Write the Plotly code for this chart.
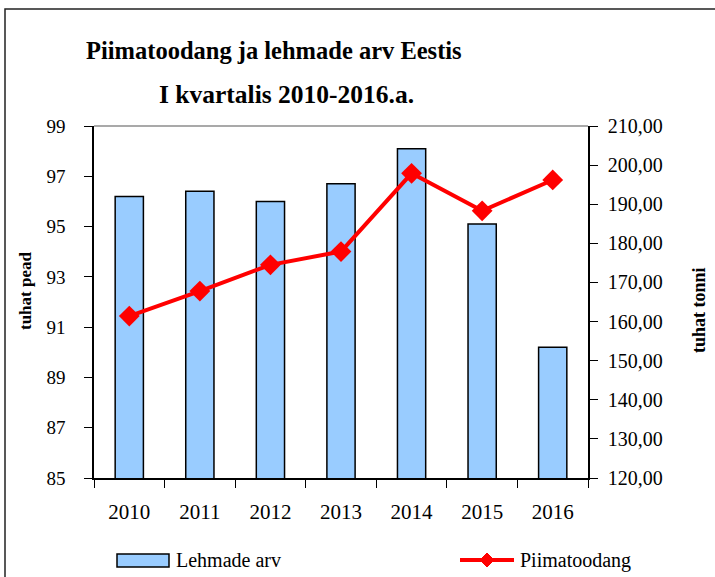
import plotly.graph_objects as go

years = ["2010", "2011", "2012", "2013", "2014", "2015", "2016"]
lehmade_arv = [96.2, 96.4, 96.0, 96.7, 98.1, 95.1, 90.2]
piimatoodang = [161.4, 167.8, 174.5, 177.9, 197.9, 188.3, 196.2]

FONT = "Liberation Serif"

fig = go.Figure()
fig.add_trace(go.Bar(
    x=years, y=lehmade_arv, name="Lehmade arv",
    marker=dict(color="#99CCFF", line=dict(color="black", width=1.5)),
    width=0.4, yaxis="y", showlegend=False,
))
fig.add_trace(go.Scatter(
    x=years, y=piimatoodang, name="Piimatoodang", mode="lines+markers",
    line=dict(color="#FF0000", width=4),
    marker=dict(symbol="diamond", size=16, color="#FF0000"),
    yaxis="y2", showlegend=False,
))

L, R, T, B = 94, 127, 126, 99
W, H = 715, 577
pw, ph = W - L - R, H - T - B

def px(x):
    return (x - L) / pw

def py(y):
    return (H - B - y) / ph

shapes = [
    # outer frame
    dict(type="rect", xref="paper", yref="paper", x0=px(5), x1=px(740), y0=py(600), y1=py(9),
         line=dict(color="#222222", width=1.5), layer="below"),
    # plot-area top border
    dict(type="line", xref="paper", yref="paper", x0=0, x1=1, y0=1, y1=1,
         line=dict(color="#8c8c8c", width=1.5)),
    # legend: bar swatch
    dict(type="rect", xref="paper", yref="paper", x0=px(117), x1=px(169), y0=py(567), y1=py(554),
         fillcolor="#99CCFF", line=dict(color="black", width=1.5)),
    # legend: line swatch
    dict(type="line", xref="paper", yref="paper", x0=px(460), x1=px(514), y0=py(560), y1=py(560),
         line=dict(color="#FF0000", width=4)),
    dict(type="path", xref="paper", yref="paper",
         path=f"M {px(480)} {py(560)} L {px(487)} {py(553)} L {px(494)} {py(560)} L {px(487)} {py(567)} Z",
         fillcolor="#FF0000", line=dict(color="#FF0000", width=1)),
]

annotations = [
    dict(text="<b>Piimatoodang ja lehmade arv Eestis</b>", xref="paper", yref="paper",
         x=px(274), y=py(50), showarrow=False, font=dict(family=FONT, size=24.5, color="black"),
         xanchor="center", yanchor="middle"),
    dict(text="<b>I kvartalis 2010-2016.a.</b>", xref="paper", yref="paper",
         x=px(286), y=py(95), showarrow=False, font=dict(family=FONT, size=25.5, color="black"),
         xanchor="center", yanchor="middle"),
    dict(text="<b>tuhat pead</b>", xref="paper", yref="paper", x=px(25), y=py(291), textangle=-90,
         showarrow=False, font=dict(family=FONT, size=17, color="black"),
         xanchor="center", yanchor="middle"),
    dict(text="<b>tuhat tonni</b>", xref="paper", yref="paper", x=px(699), y=py(310), textangle=-90,
         showarrow=False, font=dict(family=FONT, size=18, color="black"),
         xanchor="center", yanchor="middle"),
    dict(text="Lehmade arv", xref="paper", yref="paper", x=px(174), y=py(560),
         showarrow=False, font=dict(family=FONT, size=20, color="black"),
         xanchor="left", yanchor="middle"),
    dict(text="Piimatoodang", xref="paper", yref="paper", x=px(518), y=py(560),
         showarrow=False, font=dict(family=FONT, size=20, color="black"),
         xanchor="left", yanchor="middle"),
]

fig.update_layout(
    width=W, height=H,
    margin=dict(l=L, r=R, t=T, b=B),
    paper_bgcolor="white", plot_bgcolor="white",
    separators=", ",
    font=dict(family=FONT, color="black"),
    bargap=0.6,
    xaxis=dict(
        type="category", showgrid=False, showline=True, linecolor="black", linewidth=1.5,
        ticks="outside", tickson="boundaries", ticklen=8, tickcolor="black",
        tickfont=dict(family=FONT, size=21, color="black"), ticklabelstandoff=14,
    ),
    yaxis=dict(
        range=[85, 99], dtick=2, tick0=85, showgrid=False, zeroline=False,
        showline=True, linecolor="black", linewidth=1.5,
        ticks="outside", ticklen=8, tickcolor="black",
        tickfont=dict(family=FONT, size=19, color="black"), ticklabelstandoff=15,
    ),
    yaxis2=dict(
        range=[120, 210], dtick=10, tick0=120, overlaying="y", side="right",
        showgrid=False, zeroline=False, showline=True, linecolor="black", linewidth=1.5,
        ticks="outside", ticklen=8, tickcolor="black", tickformat=".2f",
        tickfont=dict(family=FONT, size=20, color="black"), ticklabelstandoff=6,
    ),
    shapes=shapes,
    annotations=annotations,
    showlegend=False,
)

fig.write_html(
    "out.html",
    config={"displayModeBar": False},
    post_script="document.body.style.margin='0';document.body.style.overflow='hidden';",
)
